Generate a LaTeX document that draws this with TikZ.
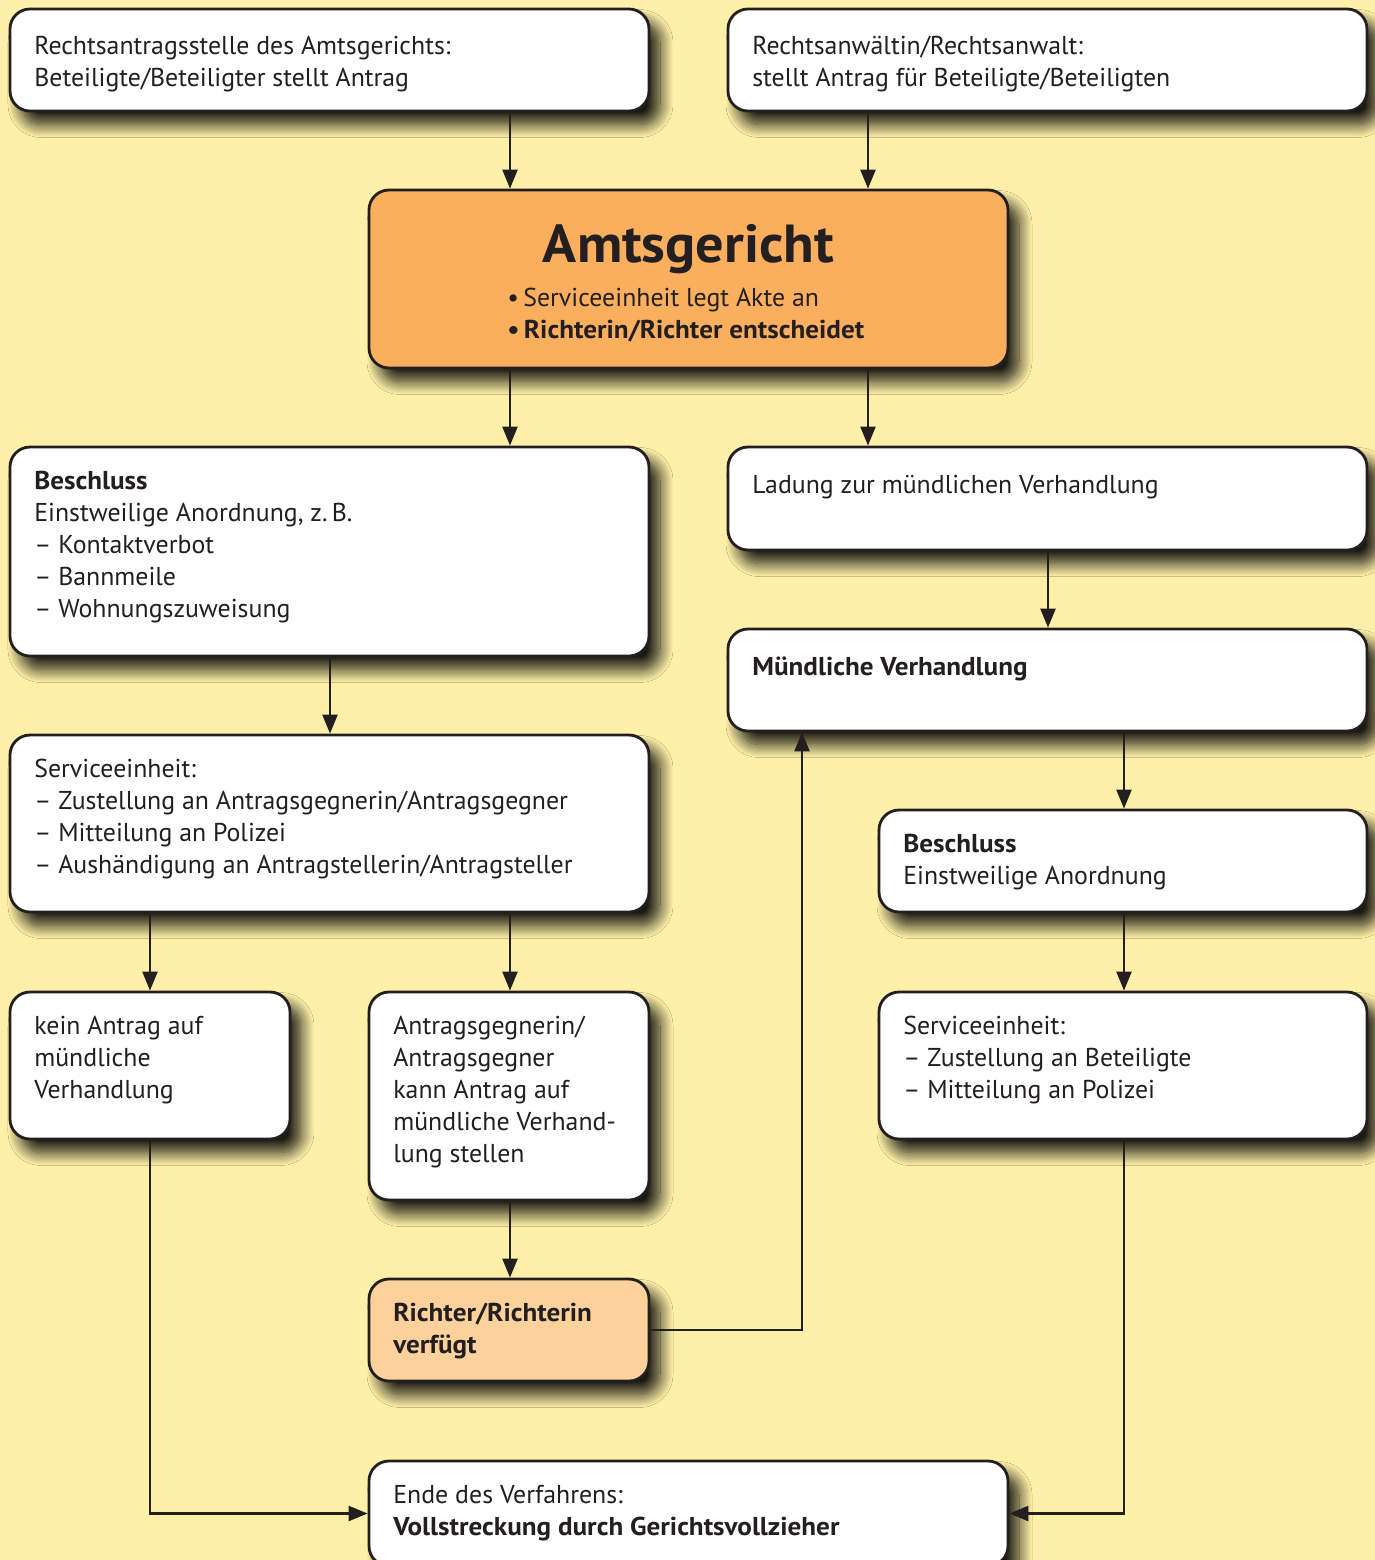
\documentclass[tikz,border=0pt]{standalone}
\usepackage{fontspec}
\setmainfont{PT Sans}[BoldFeatures={FakeStretch=1.05}]
\usetikzlibrary{arrows.meta,shadows.blur}
\definecolor{bg}{HTML}{FEF0A8}
\definecolor{ink}{HTML}{231F20}
\definecolor{court}{HTML}{F9AF5E}
\definecolor{judge}{HTML}{FDD19C}
% \panel[style]{x1}{y1}{x2}{y2}{name}: rounded box given by its corners
\newcommand\panel[6][]{%
  \node[box,#1,minimum width={(#4-#2)*0.02cm},minimum height={(#5-#3)*0.02cm}]
    (#6) at ({(#2+#4)/2},{(#3+#5)/2}) {};}
\begin{document}
\begin{tikzpicture}[x=0.02cm,y=-0.02cm,
  box/.style={draw=ink, line width=1.6pt, rounded corners=0.4cm, fill=white,
    inner sep=0pt,
    blur shadow={shadow xshift=0.22cm, shadow yshift=-0.27cm,
      shadow blur radius=0.26cm, shadow blur steps=14, shadow opacity=90}},
  txt/.style={anchor=north west, inner sep=0pt, align=left, text=ink,
    font=\fontsize{14.7}{18.2}\selectfont, execute at begin node=\strut},
  link/.style={draw=ink, line width=1.3pt,
    -{Triangle[length=0.38cm,width=0.3cm]}}]

\useasboundingbox (0,0) rectangle (1375,1560);
\clip (0,0) rectangle (1375,1560);
\fill[bg] (0,0) rectangle (1375,1560);

% columns used by the connectors
\coordinate (c150) at (150,0);
\coordinate (c330) at (330,0);
\coordinate (c510) at (510,0);
\coordinate (c802) at (802,0);
\coordinate (c868) at (868,0);
\coordinate (c1048) at (1048,0);
\coordinate (c1124) at (1124,0);

% boxes
\panel{10}{9}{649}{111}{top1}
\panel{728}{9}{1367}{111}{top2}
\panel[fill=court]{369}{190}{1008}{368}{court}
\panel{10}{447}{649}{656}{besch}
\panel{728}{447}{1367}{550}{ladung}
\panel{728}{629}{1367}{731}{muend}
\panel{10}{735}{649}{912}{serv1}
\panel{879}{810}{1367}{912}{besch2}
\panel{10}{992}{290}{1139}{kein}
\panel{369}{992}{649}{1200}{gegner}
\panel{879}{992}{1367}{1139}{serv2}
\panel[fill=judge]{369}{1279}{649}{1381}{judge}
\panel{369}{1461}{1008}{1566}{ende}

% texts (top edge = first baseline - strut height)
\node[txt] (ttop1) at (34,36) {Rechtsantragsstelle des Amtsgerichts:\\Beteiligte/Beteiligter stellt Antrag};
\node[txt] (ttop2) at (752,36) {Rechtsanwältin/Rechtsanwalt:\\stellt Antrag für Beteiligte/Beteiligten};
\node[anchor=base, inner sep=0pt, text=ink, font=\bfseries\fontsize{30.5}{30.5}\selectfont] (tcourt) at (688.5,262) {Amtsgericht};
\node[txt] (tcourt2) at (507,288) {•\,Serviceeinheit legt Akte an\\\textbf{•\,Richterin/Richter entscheidet}};
\node[txt] (tbesch) at (34,471) {\textbf{Beschluss}\\Einstweilige Anordnung, z.\,B.\\– Kontaktverbot\\– Bannmeile\\– Wohnungszuweisung};
\node[txt] (tladung) at (752,471) {Ladung zur mündlichen Verhandlung};
\node[txt] (tmuend) at (752,653) {\textbf{Mündliche Verhandlung}};
\node[txt] (tserv1) at (34,759) {Serviceeinheit:\\– Zustellung an Antragsgegnerin/Antragsgegner\\– Mitteilung an Polizei\\– Aushändigung an Antragstellerin/Antragsteller};
\node[txt] (tbesch2) at (903,834) {\textbf{Beschluss}\\Einstweilige Anordnung};
\node[txt] (tkein) at (34,1016) {kein Antrag auf\\mündliche\\Verhandlung};
\node[txt] (tgegner) at (393,1016) {Antragsgegnerin/\\Antragsgegner\\kann Antrag auf\\mündliche Verhand-\\lung stellen};
\node[txt] (tserv2) at (903,1016) {Serviceeinheit:\\– Zustellung an Beteiligte\\– Mitteilung an Polizei};
\node[txt] (tjudge) at (393,1303) {\textbf{Richter/Richterin}\\\textbf{verfügt}};
\node[txt] (tende) at (393,1485) {Ende des Verfahrens:\\\textbf{Vollstreckung durch Gerichtsvollzieher}};

% connectors
\draw[link] (top1.south -| c510) -- (court.north -| c510);
\draw[link] (top2.south -| c868) -- (court.north -| c868);
\draw[link] (court.south -| c510) -- (besch.north -| c510);
\draw[link] (court.south -| c868) -- (ladung.north -| c868);
\draw[link] (ladung.south -| c1048) -- (muend.north -| c1048);
\draw[link] (besch.south -| c330) -- (serv1.north -| c330);
\draw[link] (muend.south -| c1124) -- (besch2.north -| c1124);
\draw[link] (serv1.south -| c150) -- (kein.north -| c150);
\draw[link] (serv1.south -| c510) -- (gegner.north -| c510);
\draw[link] (besch2.south -| c1124) -- (serv2.north -| c1124);
\draw[link] (gegner.south -| c510) -- (judge.north -| c510);
\draw[link] (judge.east) -- (judge.east -| c802) -- (muend.south -| c802);
\draw[link] (kein.south -| c150) |- (ende.west);
\draw[link] (serv2.south -| c1124) |- (ende.east);
\end{tikzpicture}
\end{document}
